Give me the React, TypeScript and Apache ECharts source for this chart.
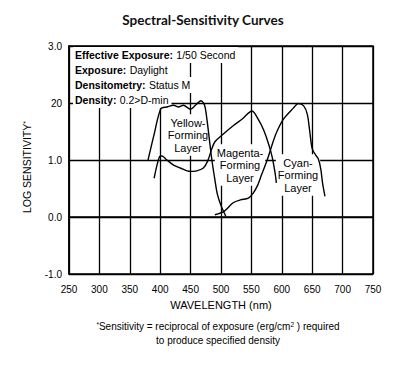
import React, { useEffect, useRef } from "react";
import * as echarts from "echarts";

const xTicks = [250, 300, 350, 400, 450, 500, 550, 600, 650, 700, 750];
const yTickLabels: Record<string, string> = { "-1": "-1.0", "0": "0.0", "1": "1.0", "2": "20", "3": "3.0" };

const yellowNm = [380, 390, 401, 411, 422, 430, 438, 450, 458, 467, 473, 477, 481, 485, 490, 494, 500, 508];
const yellowVal = [1.0, 1.45, 1.9, 1.93, 1.96, 1.93, 1.96, 1.89, 1.96, 2.04, 1.96, 1.7, 1.35, 1.0, 0.65, 0.4, 0.2, 0.01];

const magentaNm = [390, 399, 403, 411, 422, 433, 449, 460, 471, 478, 485, 490, 500, 520, 535, 551, 562, 570, 578, 584, 589, 591];
const magentaVal = [0.68, 1.06, 1.07, 1.0, 0.91, 0.86, 0.8, 0.81, 0.86, 0.98, 1.2, 1.32, 1.42, 1.6, 1.72, 1.86, 1.7, 1.53, 1.29, 1.06, 0.77, 0.6];

const cyanNm = [490, 505, 520, 532, 545, 553, 560, 567, 576, 585, 592, 603, 619, 627, 636, 642, 646, 650, 656, 660, 664, 667, 671];
const cyanVal = [0.04, 0.1, 0.25, 0.3, 0.33, 0.42, 0.55, 0.75, 1.0, 1.3, 1.5, 1.72, 1.91, 1.99, 1.95, 1.8, 1.5, 1.2, 1.08, 1.02, 0.85, 0.6, 0.36];

const infoRows = [
  ["Effective Exposure:", "1/50 Second"],
  ["Exposure:", "Daylight"],
  ["Densitometry:", "Status M"],
  ["Density:", "0.2>D-min"],
];

const layerLabels = [
  { text: "Yellow-\nForming\nLayer", x: 188, y: 135 },
  { text: "Magenta-\nForming\nLayer", x: 240, y: 165 },
  { text: "Cyan-\nForming\nLayer", x: 298, y: 175 },
];

const SANS = "'Liberation Sans', Arial, Helvetica, sans-serif";

const zip = (a: number[], b: number[]) => a.map((v, i) => [v, b[i]]);

export default function App() {
  const ref = useRef<HTMLDivElement>(null);
  useEffect(() => {
    if (!ref.current) return;
    const chart = echarts.init(ref.current, null, { renderer: "svg" });
    const lineSeries = (name: string, nm: number[], val: number[]) => ({
      name,
      type: "line",
      data: zip(nm, val),
      smooth: 0.3,
      showSymbol: false,
      symbol: "none",
      lineStyle: { color: "#000", width: 1.4 },
      z: 3,
    });
    const graphics: any[] = [
      {
        type: "text",
        x: 203,
        y: 20,
        z: 5,
        style: {
          text: "Spectral-Sensitivity Curves",
          font: "bold 13.5px Lato, 'Open Sans', sans-serif",
          fill: "#111",
          textAlign: "center",
          textVerticalAlign: "middle",
          align: "center",
          verticalAlign: "middle",
        },
      },
      ...infoRows.map((r, i) => ({
        type: "text",
        x: 73,
        y: 55 + i * 15,
        z: 1,
        style: {
          text: `{b|${r[0]}} {n|${r[1]}}`,
          rich: {
            b: { fontFamily: SANS, fontWeight: "bold", fontSize: 10.5, fill: "#000", color: "#000" },
            n: { fontFamily: SANS, fontSize: 10.5, fill: "#000", color: "#000" },
          },
          textAlign: "left",
          textVerticalAlign: "middle",
          align: "left",
          verticalAlign: "middle",
          backgroundColor: "#fff",
          padding: [2, 3, 2, 2],
        },
      })),
      ...layerLabels.map((l) => ({
        type: "text",
        x: l.x,
        y: l.y,
        z: 1,
        style: {
          text: l.text,
          font: `11px ${SANS}`,
          fill: "#000",
          lineHeight: 12.5,
          textAlign: "center",
          textVerticalAlign: "middle",
          align: "center",
          verticalAlign: "middle",
          backgroundColor: "#fff",
          padding: [2, 2, 2, 2],
        },
      })),
      {
        type: "text",
        x: 27,
        y: 167,
        rotation: Math.PI / 2,
        z: 5,
        style: {
          text: "LOG SENSITIVITY{s|*}",
          font: `10.5px ${SANS}`,
          fill: "#000",
          rich: { s: { fontFamily: SANS, fontSize: 7, verticalAlign: "top", fill: "#000", color: "#000" } },
          textAlign: "center",
          textVerticalAlign: "middle",
          align: "center",
          verticalAlign: "middle",
        },
      },
      {
        type: "text",
        x: 221,
        y: 305,
        z: 5,
        style: {
          text: "WAVELENGTH (nm)",
          font: `11px ${SANS}`,
          fill: "#000",
          textAlign: "center",
          textVerticalAlign: "middle",
          align: "center",
          verticalAlign: "middle",
        },
      },
      {
        type: "text",
        x: 218,
        y: 326,
        z: 5,
        style: {
          text: "{s|*}Sensitivity = reciprocal of exposure (erg/cm{s|2} ) required",
          font: `10px ${SANS}`,
          fill: "#000",
          rich: { s: { fontFamily: SANS, fontSize: 6.5, verticalAlign: "top", fill: "#000", color: "#000" } },
          textAlign: "center",
          textVerticalAlign: "middle",
          align: "center",
          verticalAlign: "middle",
        },
      },
      {
        type: "text",
        x: 218,
        y: 340,
        z: 5,
        style: {
          text: "to produce specified density",
          font: `10px ${SANS}`,
          fill: "#000",
          textAlign: "center",
          textVerticalAlign: "middle",
          align: "center",
          verticalAlign: "middle",
        },
      },
    ];
    chart.setOption({
      animation: false,
      backgroundColor: "#fff",
      grid: {
        left: 69,
        top: 46,
        right: 27,
        bottom: 97,
        show: true,
        borderColor: "#000",
        borderWidth: 1.5,
        backgroundColor: "transparent",
      },
      xAxis: {
        type: "value",
        min: xTicks[0],
        max: xTicks[xTicks.length - 1],
        interval: 50,
        axisLine: { show: true, lineStyle: { color: "#000", width: 1.5 } },
        axisTick: { show: false },
        axisLabel: { color: "#000", fontSize: 10, fontFamily: SANS, margin: 10 },
        splitLine: { show: true, lineStyle: { color: "#000", width: 1.3 } },
      },
      yAxis: {
        type: "value",
        min: -1,
        max: 3,
        interval: 1,
        axisLine: { show: true, lineStyle: { color: "#000", width: 1.5 } },
        axisTick: { show: false },
        axisLabel: {
          color: "#000",
          fontSize: 10,
          fontFamily: SANS,
          margin: 7,
          formatter: (v: number) => yTickLabels[String(Math.round(v))] ?? String(v),
        },
        splitLine: { show: true, lineStyle: { color: "#000", width: 1.3 } },
      },
      series: [
        lineSeries("Yellow", yellowNm, yellowVal),
        lineSeries("Magenta", magentaNm, magentaVal),
        lineSeries("Cyan", cyanNm, cyanVal),
      ],
      graphic: graphics,
    });
    return () => chart.dispose();
  }, []);
  return <div ref={ref} style={{ width: 400, height: 371, position: "absolute", left: 0, top: 0 }} />;
}
